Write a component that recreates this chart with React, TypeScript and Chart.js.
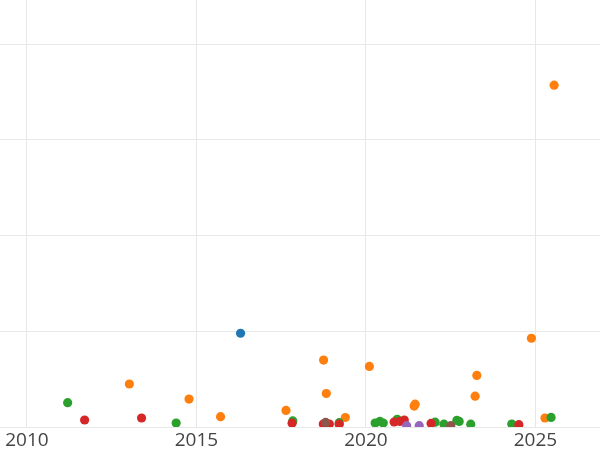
import React, { useEffect, useRef } from "react";
import { Chart, registerables } from "chart.js";

Chart.register(...registerables);

// Data (x = year, y = value)
const blueX = [2016.3];
const blueY = [0.979];

const orangeX = [2013.02, 2014.78, 2015.71, 2017.64, 2018.75, 2018.83, 2019.39, 2020.1, 2021.45, 2021.42, 2023.22, 2023.27, 2024.88, 2025.55, 2025.28];
const orangeY = [0.449, 0.292, 0.108, 0.173, 0.699, 0.35, 0.099, 0.633, 0.238, 0.219, 0.322, 0.539, 0.927, 3.57, 0.094];

const greenX = [2011.2, 2014.4, 2017.84, 2019.21, 2020.27, 2020.41, 2020.51, 2020.92, 2022.04, 2022.3, 2022.68, 2022.75, 2023.09, 2024.3, 2025.46];
const greenY = [0.254, 0.042, 0.063, 0.045, 0.042, 0.058, 0.042, 0.081, 0.05, 0.029, 0.069, 0.058, 0.029, 0.031, 0.1];

const redX = [2011.7, 2013.38, 2017.82, 2018.74, 2018.92, 2019.21, 2020.83, 2021.0, 2021.13, 2021.92, 2024.51];
const redY = [0.073, 0.094, 0.04, 0.031, 0.031, 0.029, 0.052, 0.058, 0.073, 0.037, 0.024];

const purpleX = [2021.2, 2021.57];
const purpleY = [0.014, 0.014];

const brownX = [2018.81, 2022.5];
const brownY = [0.048, 0.014];

const xTicks = [2010, 2015, 2020, 2025];
const yGrid = [0, 1, 2, 3, 4];

const series = [
  { name: "blue", color: "#1f77b4", xs: blueX, ys: blueY },
  { name: "orange", color: "#ff7f0e", xs: orangeX, ys: orangeY },
  { name: "green", color: "#2ca02c", xs: greenX, ys: greenY },
  { name: "red", color: "#d62728", xs: redX, ys: redY },
  { name: "purple", color: "#9467bd", xs: purpleX, ys: purpleY },
  { name: "brown", color: "#8c564b", xs: brownX, ys: brownY },
];

export default function App() {
  const ref = useRef<HTMLCanvasElement | null>(null);

  useEffect(() => {
    if (!ref.current) return;
    // Chart.js draws dataset 0 on top; reverse so later series are on top
    const datasets = series
      .slice()
      .reverse()
      .map((s) => ({
        label: s.name,
        data: s.xs.map((x, i) => ({ x, y: s.ys[i] })),
        backgroundColor: s.color,
        borderColor: s.color,
        borderWidth: 0,
        pointRadius: 4.6,
        pointHoverRadius: 4.6,
        clip: 0,
      }));

    const chart = new Chart(ref.current, {
      type: "scatter",
      data: { datasets },
      options: {
        animation: false,
        responsive: false,
        devicePixelRatio: 1,
        layout: { padding: 0, autoPadding: false },
        plugins: { legend: { display: false }, tooltip: { enabled: false } },
        scales: {
          x: {
            type: "linear",
            min: 2009.204,
            max: 2026.903,
            afterBuildTicks: (axis: any) => {
              axis.ticks = xTicks.map((v) => ({ value: v }));
            },
            afterFit: (axis: any) => {
              axis.height = 23;
            },
            grid: { color: "#e8e8e8", lineWidth: 1, drawTicks: false },
            border: { display: false },
            ticks: {
              color: "#444",
              padding: 2,
              font: { family: "'Open Sans', 'Noto Sans', sans-serif", size: 19 },
              callback: (v: any) => String(v),
              maxRotation: 0,
            },
          },
          y: {
            type: "linear",
            min: 0,
            max: 4.46,
            afterBuildTicks: (axis: any) => {
              axis.ticks = yGrid.map((v) => ({ value: v }));
            },
            grid: { color: "#e8e8e8", lineWidth: 1, drawTicks: false },
            border: { display: false },
            ticks: { display: false },
          },
        },
      },
    });
    return () => chart.destroy();
  }, []);

  return (
    <div style={{ position: "fixed", left: 0, top: 0, width: 600, height: 450, background: "#fff" }}>
      <canvas ref={ref} width={600} height={450} style={{ display: "block" }} />
    </div>
  );
}
